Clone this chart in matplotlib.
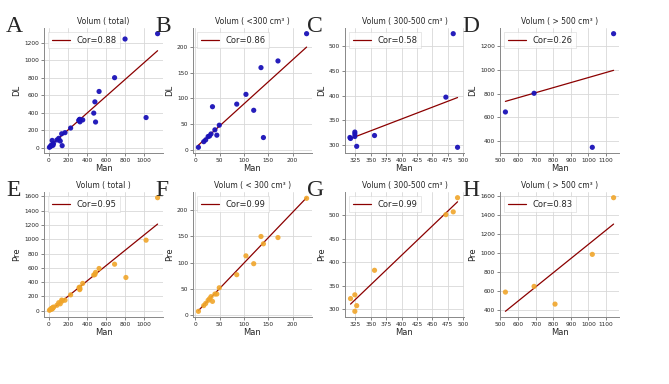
import numpy as np
import matplotlib
matplotlib.use('Agg')
import matplotlib.pyplot as plt
from matplotlib.ticker import MultipleLocator
import seaborn as sns

# ---- data ----
# < 300 cm3
man_small = [6, 17, 21, 26, 29, 32, 35, 40, 44, 49, 85, 104, 120, 135, 140, 170, 229]
dl_small = [5, 16, 19.5, 26, 27, 31, 84, 39, 28.6, 48, 89, 108, 77, 160, 24, 173, 226]
pre_small = [7, 18, 22, 28, 31, 35, 26, 40, 40, 52, 77, 113, 98, 150, 136, 148, 223]

# 300-500 cm3
man_mid_dl = [316, 317, 324, 324, 324, 327, 356, 472, 484, 491]
dl_mid = [315, 313, 326, 322, 317, 297, 319, 397, 526, 295]
man_mid_pre = [317, 324, 327, 324, 356, 472, 484, 491]
pre_mid = [323, 331, 308, 296, 383, 501, 507, 537]

# > 500 cm3
man_big_dl = [528, 691, 1022, 1143]
dl_big = [645, 803, 346, 1307]
man_big_pre = [528, 691, 810, 1022, 1143]
pre_big = [592, 652, 466, 988, 1583]

# point only seen in the total DL panel
man_extra_dl = [801]
dl_extra = [1246]

# fitted lines (slope, intercept) and correlation per panel
fit_dl = [(0.9645, 9.4), (0.855, 4.1), (0.479, 161), (0.427, 509)]
fit_pre = [(1.074, -14), (0.968, 2.5), (1.247, -84), (1.489, -396)]
cor_dl = [0.88, 0.86, 0.58, 0.26]
cor_pre = [0.95, 0.99, 0.99, 0.83]

titles_dl = ['Volum ( total)', 'Volum ( <300 cm³ )', 'Volum ( 300-500 cm³ )', 'Volum ( > 500 cm³ )']
titles_pre = ['Volum ( total )', 'Volum ( < 300 cm³ )', 'Volum ( 300-500 cm³ )', 'Volum ( > 500 cm³ )']
letters = ['A', 'B', 'C', 'D', 'E', 'F', 'G', 'H']

# tick spacing per column
x_steps = [200, 50, 25, 100]
y_steps = [200, 50, 50, 200]

sns.set_style('whitegrid')
plt.rcParams['font.family'] = ['DejaVu Sans']

W, H = 669, 384
fig = plt.figure(figsize=(W / 100, H / 100), dpi=100)

col_left = [44, 193, 345, 500]
ax_w = 119
row_top = [28, 192]
ax_h = 125

dl_sets = [
    (man_small + man_mid_dl + man_big_dl + man_extra_dl, dl_small + dl_mid + dl_big + dl_extra),
    (man_small, dl_small),
    (man_mid_dl, dl_mid),
    (man_big_dl, dl_big),
]
pre_sets = [
    (man_small + man_mid_pre + man_big_pre, pre_small + pre_mid + pre_big),
    (man_small, pre_small),
    (man_mid_pre, pre_mid),
    (man_big_pre, pre_big),
]

rows = [
    (dl_sets, fit_dl, cor_dl, titles_dl, 'DL', '#1a12b8'),
    (pre_sets, fit_pre, cor_pre, titles_pre, 'Pre', '#f0a52a'),
]

for r, (sets, fits, cors, titles, ylab, color) in enumerate(rows):
    for c in range(4):
        left = col_left[c] / W
        bottom = 1 - (row_top[r] + ax_h) / H
        ax = fig.add_axes([left, bottom, ax_w / W, ax_h / H])
        x, y = np.array(sets[c][0], float), np.array(sets[c][1], float)
        ax.scatter(x, y, s=14, color=color, edgecolor='none', zorder=3,
                   alpha=0.95 if r == 0 else 0.9)
        k, b = fits[c]
        xl = np.array([x.min(), x.max()])
        ax.plot(xl, k * xl + b, color='#8b0000', lw=0.9, zorder=2,
                label='Cor=%.2f' % cors[c])
        ax.xaxis.set_major_locator(MultipleLocator(x_steps[c]))
        ax.yaxis.set_major_locator(MultipleLocator(y_steps[c]))
        if c == 2:
            ax.set_xlim(308, 501.5)
        ax.set_title(titles[c], fontsize=5.5, pad=3)
        ax.set_xlabel('Man', fontsize=6, labelpad=1)
        ax.set_ylabel(ylab, fontsize=6, labelpad=2)
        ax.tick_params(labelsize=4.2, length=2, width=0.5, pad=1.5,
                       left=True, bottom=True, color='#555555')
        ax.grid(True, color='#d8d8d8', lw=0.6)
        for s in ['top', 'right']:
            ax.spines[s].set_visible(False)
        for s in ['left', 'bottom']:
            ax.spines[s].set_color('#888888')
            ax.spines[s].set_linewidth(0.7)
        leg = ax.legend(loc='upper left', fontsize=6, handlelength=2.2,
                        borderpad=0.4, frameon=True, fancybox=False)
        leg.get_frame().set_linewidth(0.4)
        leg.get_frame().set_edgecolor('#cccccc')
        fig.text((col_left[c] - 38) / W, 1 - (row_top[r] + 4) / H, letters[r * 4 + c],
                 fontsize=17, family='Liberation Serif', va='baseline')

fig.savefig('out.png', dpi=100)
